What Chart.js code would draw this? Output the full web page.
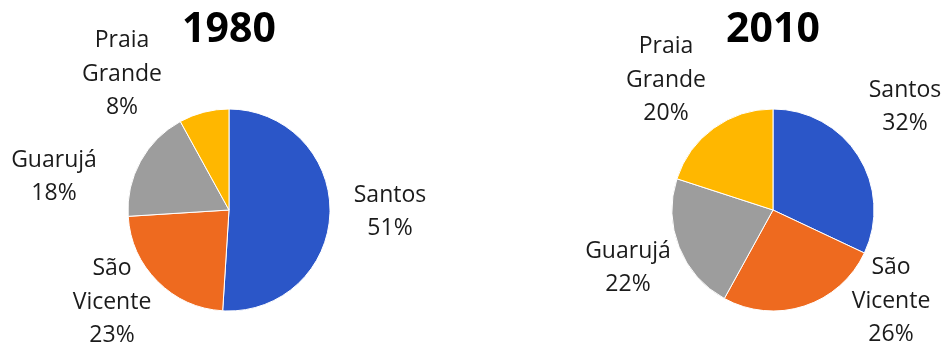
<!DOCTYPE html>
<html>
<head>
<meta charset="utf-8">
<script src="https://cdn.jsdelivr.net/npm/chart.js@4.4.1/dist/chart.umd.min.js"></script>
<style>
  html, body { margin: 0; padding: 0; background: #fff; }
  .wrap { width: 946px; height: 349px; position: relative; }
  canvas { position: absolute; top: 0; }
  #pie1980 { left: 0; }
  #pie2010 { left: 473px; }
</style>
</head>
<body>
<div class="wrap">
  <canvas id="pie1980" width="473" height="349"></canvas>
  <canvas id="pie2010" width="473" height="349"></canvas>
</div>
<script>
const cities = ["Santos", "São Vicente", "Guarujá", "Praia Grande"];
const cityLines = [["Santos"], ["São", "Vicente"], ["Guarujá"], ["Praia", "Grande"]];
const share1980 = [51, 23, 18, 8];
const share2010 = [32, 26, 22, 20];
const colors = ["#2b56c8", "#ee6a1f", "#9d9d9d", "#ffb700"];

// where each label block sits, relative to the pie centre
const labelPos1980 = [[161, 2], [-117, 92], [-175, -33], [-107, -136]];
const labelPos2010 = [[132, -103], [118, 91], [-145, 58], [-107, -130]];

const FONT = "'Open Sans', 'DejaVu Sans', sans-serif";

const sliceLabels = {
  id: 'sliceLabels',
  afterDatasetsDraw(chart, args, opts) {
    const ctx = chart.ctx;
    const meta = chart.getDatasetMeta(0);
    const values = chart.data.datasets[0].data;
    const total = values.reduce((a, b) => a + b, 0);
    ctx.save();
    ctx.font = '23px ' + FONT;
    ctx.fillStyle = '#1b1b1b';
    ctx.textAlign = 'center';
    ctx.textBaseline = 'middle';
    const lh = 33.5;
    meta.data.forEach((arc, i) => {
      const lines = cityLines[i].concat([Math.round(values[i] / total * 100) + '%']);
      const cx = arc.x + opts.pos[i][0];
      const cy = arc.y + opts.pos[i][1];
      const y0 = cy - (lines.length - 1) * lh / 2;
      lines.forEach((t, k) => ctx.fillText(t, cx, y0 + k * lh));
    });
    ctx.restore();
  }
};

function makePie(id, title, values, pos, padLeft, padRight) {
  return new Chart(document.getElementById(id), {
    type: 'pie',
    data: {
      labels: cities,
      datasets: [{
        data: values,
        backgroundColor: colors,
        borderColor: '#ffffff',
        borderWidth: 1,
        radius: 101
      }]
    },
    options: {
      responsive: false,
      animation: false,
      devicePixelRatio: 1,
      layout: { padding: { left: padLeft, right: padRight, top: 0, bottom: 38 } },
      plugins: {
        legend: { display: false },
        tooltip: { enabled: false },
        title: {
          display: true,
          text: title,
          color: '#000',
          font: { family: FONT, size: 41, weight: 'bold', lineHeight: 1.2 },
          padding: { top: 5.4, bottom: 54.4 }
        },
        sliceLabels: { pos: pos }
      }
    },
    plugins: [sliceLabels]
  });
}

makePie('pie1980', '1980', share1980, labelPos1980, 128, 143);
makePie('pie2010', '2010', share2010, labelPos2010, 199, 72);
</script>
</body>
</html>
